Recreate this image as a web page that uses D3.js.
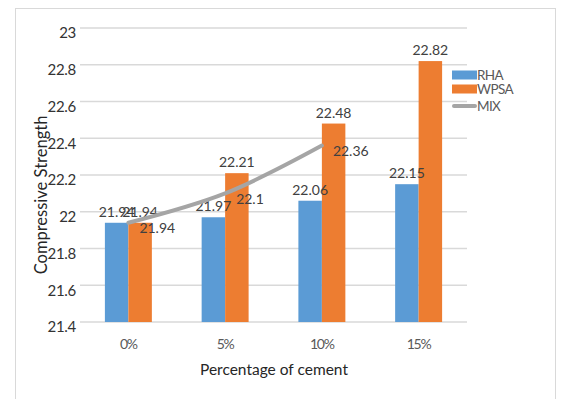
<!DOCTYPE html>
<html>
<head>
<meta charset="utf-8">
<script src="https://cdn.jsdelivr.net/npm/d3@7"></script>
<style>
  html, body { margin: 0; padding: 0; background: #fff; }
  svg { display: block; font-family: Lato, "Noto Sans", sans-serif; }
</style>
</head>
<body>
<svg id="chart" width="561" height="399"></svg>
<script>
// Compressive strength by percentage of cement replacement
const categories = ["0%", "5%", "10%", "15%"];
const seriesNames = ["RHA", "WPSA"];
const rhaValues = [21.94, 21.97, 22.06, 22.15];
const wpsaValues = [21.94, 22.21, 22.48, 22.82];
const mixValues = [21.94, 22.1, 22.36];
const yTicks = [21.4, 21.6, 21.8, 22, 22.2, 22.4, 22.6, 22.8, 23];
const colors = { RHA: "#5b9bd5", WPSA: "#ed7d31", MIX: "#a5a5a5" };

const svg = d3.select("#chart");
const textColor = "#404040";

// outer chart frame
svg.append("rect")
  .attr("x", 15.5).attr("y", 8.5)
  .attr("width", 540).attr("height", 400)
  .attr("fill", "#fff").attr("stroke", "#d9d9d9").attr("stroke-width", 1);

const plot = { left: 80, right: 467, top: 28, bottom: 322 };

const x0 = d3.scaleBand().domain(categories).range([plot.left, plot.right]).padding(0);
const x1 = d3.scaleBand().domain(seriesNames).range([0, x0.bandwidth()])
  .paddingInner(0).paddingOuter(1.06);
const y = d3.scaleLinear().domain([21.4, 23]).range([plot.bottom, plot.top]);

// horizontal gridlines
svg.append("g").selectAll("line").data(yTicks).join("line")
  .attr("x1", plot.left).attr("x2", plot.right)
  .attr("y1", d => y(d)).attr("y2", d => y(d))
  .attr("stroke", "#d9d9d9").attr("stroke-width", 1.3);

// y axis tick labels
const yAxis = d3.axisLeft(y).tickValues(yTicks).tickSize(0).tickPadding(4)
  .tickFormat(d => d3.format("~g")(d));
const gy = svg.append("g").attr("transform", `translate(${plot.left},5)`).call(yAxis);
gy.select(".domain").remove();
gy.selectAll("text").attr("fill", "#333").style("font-size", "15px")
  .style("font-family", "Lato, sans-serif").style("letter-spacing", "-0.3px");

// x axis tick labels
const xAxis = d3.axisBottom(x0).tickSize(0).tickPadding(17);
const gx = svg.append("g").attr("transform", `translate(0,${plot.bottom})`).call(xAxis);
gx.select(".domain").remove();
gx.selectAll("text").attr("fill", "#595959").style("font-size", "14px")
  .style("letter-spacing", "-1.2px").style("font-family", "Lato, sans-serif");

// bars
const rows = categories.map((c, i) => ({ cat: c, RHA: rhaValues[i], WPSA: wpsaValues[i] }));
const groups = svg.append("g").selectAll("g").data(rows).join("g")
  .attr("transform", d => `translate(${x0(d.cat)},0)`);
groups.selectAll("rect").data(d => seriesNames.map(k => ({ key: k, value: d[k] }))).join("rect")
  .attr("x", d => x1(d.key))
  .attr("width", x1.bandwidth())
  .attr("y", d => y(d.value))
  .attr("height", d => y(21.4) - y(d.value))
  .attr("fill", d => colors[d.key]);

// MIX line
const mixPts = mixValues.map((v, i) => [x0(categories[i]) + x0.bandwidth() / 2, y(v)]);
svg.append("path")
  .attr("d", d3.line().curve(d3.curveCatmullRom.alpha(0.5))(mixPts))
  .attr("fill", "none").attr("stroke", colors.MIX)
  .attr("stroke-width", 4).attr("stroke-linecap", "round");

// bar value labels
const labelStyle = sel => sel.attr("fill", textColor).style("font-size", "14px")
  .style("font-family", "Lato, sans-serif");
groups.selectAll("text.val").data(d => seriesNames.map(k => ({ key: k, value: d[k] }))).join("text")
  .attr("class", "val")
  .attr("x", d => x1(d.key) + x1.bandwidth() / 2)
  .attr("y", d => y(d.value) - 6)
  .attr("text-anchor", "middle")
  .text(d => d3.format("~g")(d.value))
  .call(labelStyle);

// MIX value labels, to the right of each point
svg.append("g").selectAll("text").data(mixValues).join("text")
  .attr("x", (d, i) => mixPts[i][0] + 11)
  .attr("y", (d, i) => mixPts[i][1] + 5.5)
  .attr("dy", "0.35em")
  .text(d => d3.format("~g")(d))
  .call(labelStyle);

// legend
const legend = svg.append("g").attr("transform", "translate(452,0)");
const legendItems = [
  { name: "RHA", type: "rect", cy: 75 },
  { name: "WPSA", type: "rect", cy: 89 },
  { name: "MIX", type: "line", cy: 106 }
];
legendItems.forEach(it => {
  if (it.type === "rect") {
    legend.append("rect").attr("x", 0).attr("y", it.cy - 4.5)
      .attr("width", 25).attr("height", 9).attr("fill", colors[it.name]);
  } else {
    legend.append("line").attr("x1", 2).attr("x2", 23)
      .attr("y1", it.cy).attr("y2", it.cy)
      .attr("stroke", colors.MIX).attr("stroke-width", 4).attr("stroke-linecap", "round");
  }
  legend.append("text").attr("x", 25).attr("y", it.cy).attr("dy", "0.36em")
    .attr("fill", "#595959").style("font-size", "13.5px")
    .style("letter-spacing", "-0.6px").text(it.name);
});

// axis titles
svg.append("text")
  .attr("x", 274).attr("y", 375)
  .attr("text-anchor", "middle")
  .attr("fill", "#262626").style("font-size", "15.5px")
  .text("Percentage of cement");

svg.append("text")
  .attr("transform", "translate(47,195) rotate(-90)")
  .attr("text-anchor", "middle")
  .attr("fill", "#262626").style("font-size", "16.5px")
  .text("Compressive Strength");
</script>
</body>
</html>
